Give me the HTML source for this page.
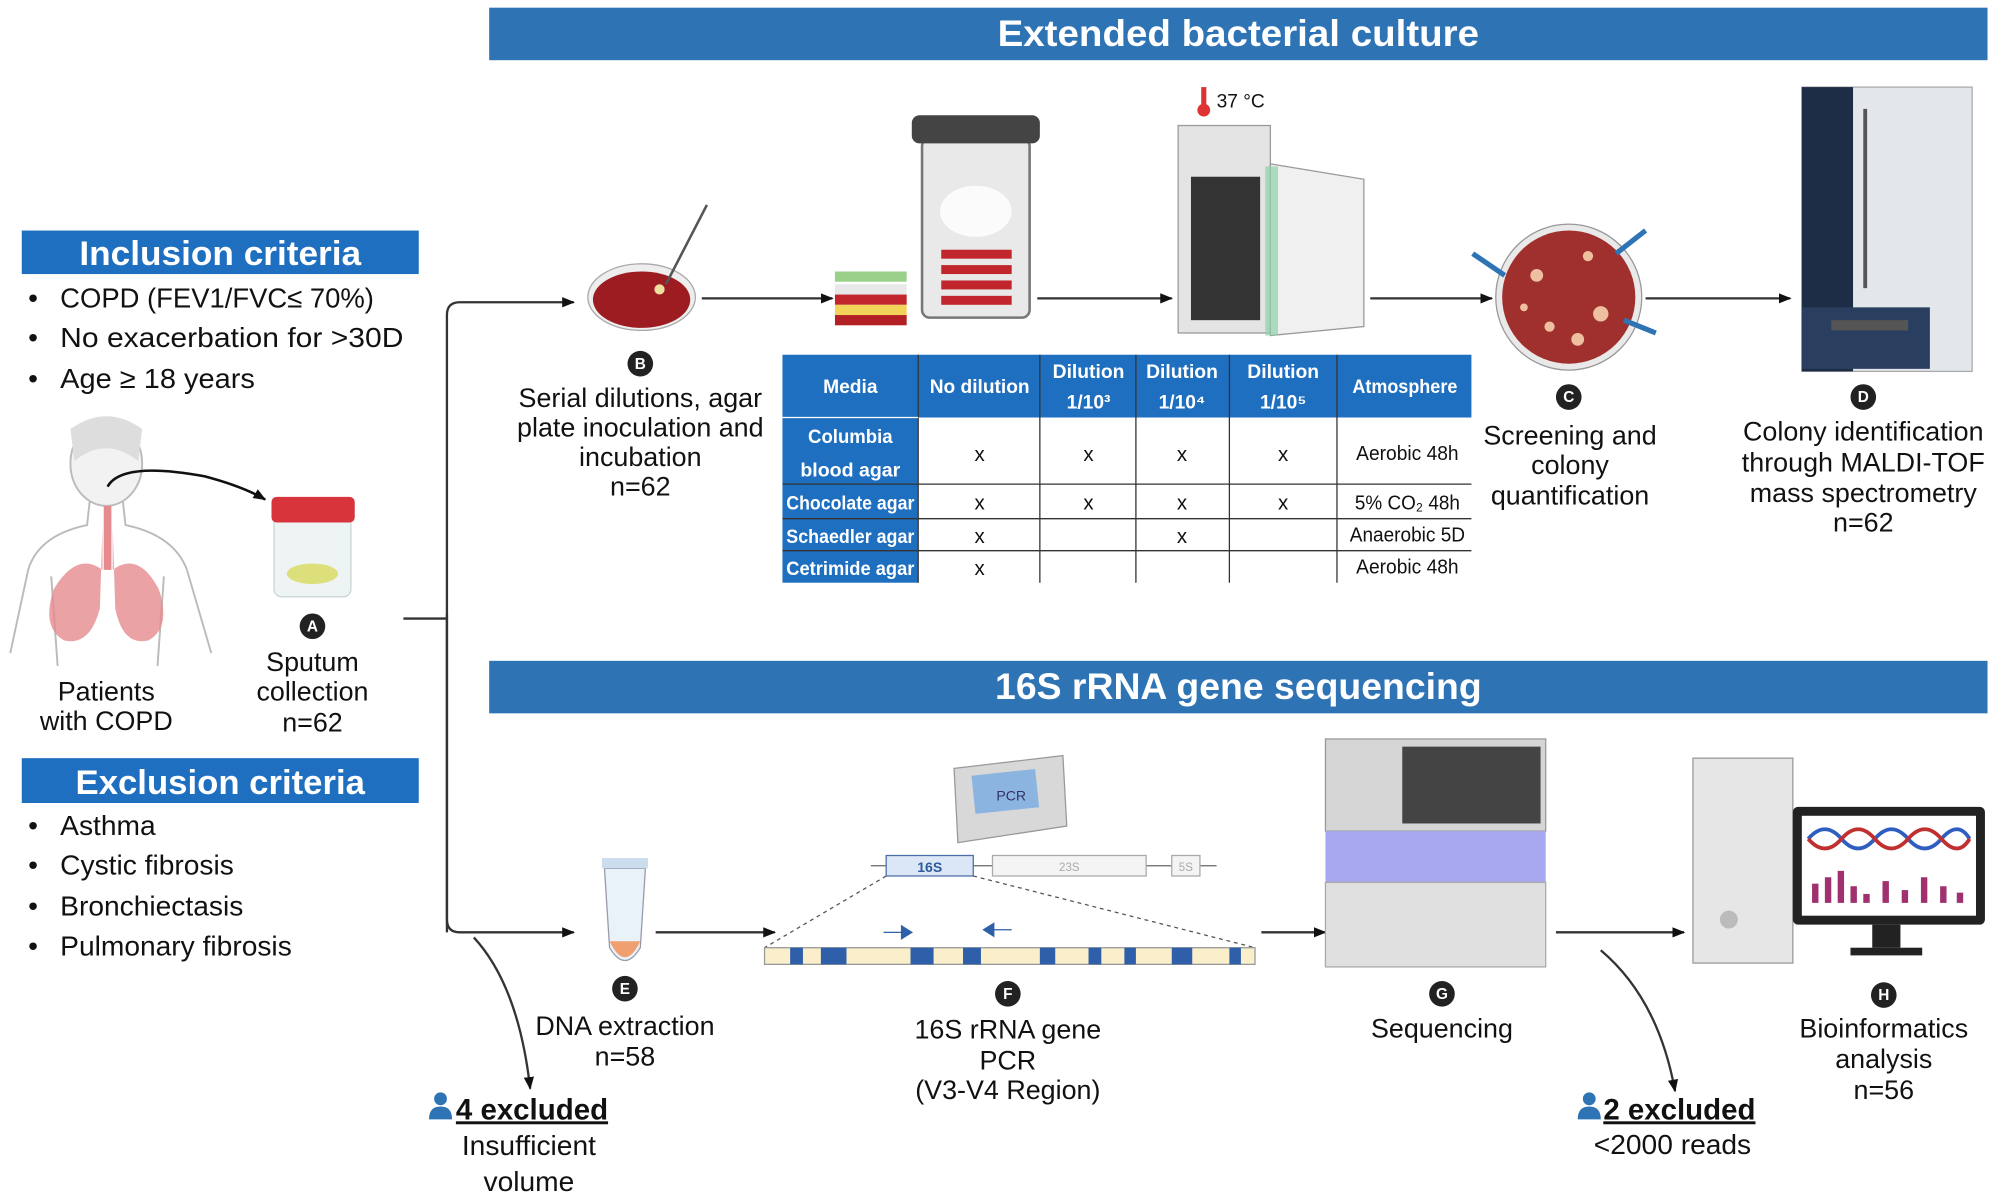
<!DOCTYPE html>
<html><head><meta charset="utf-8"><style>
html,body{margin:0;padding:0;background:#fff;width:2008px;height:1200px;overflow:hidden}
svg{display:block}
text{font-family:"Liberation Sans",sans-serif;fill:#111}
.t{font-size:21px;text-anchor:middle}
.b{font-size:22px}
.hd{font-size:27px;font-weight:bold;fill:#fff;text-anchor:middle}
.th{font-size:15px;font-weight:bold;fill:#fff;text-anchor:middle}
.td{font-size:16px;text-anchor:middle}
.lt{font-size:12px;font-weight:bold;fill:#fff;text-anchor:middle}
</style></head><body>
<svg width="2008" height="1200" viewBox="0 0 1568 937" preserveAspectRatio="none">
<defs><marker id="ar" markerWidth="10" markerHeight="10" refX="9" refY="5" orient="auto" markerUnits="userSpaceOnUse"><path d="M0,1 L10,5 L0,9 z" fill="#111"/></marker></defs>

<rect x="382" y="6" width="1170" height="41" fill="#2e74b5"/>
<text x="967" y="36" class="hd" style="font-size:29px" textLength="376" lengthAdjust="spacingAndGlyphs">Extended bacterial culture</text>
<rect x="382" y="516" width="1170" height="41" fill="#2e74b5"/>
<text x="967" y="546" class="hd" style="font-size:29px" textLength="380" lengthAdjust="spacingAndGlyphs">16S rRNA gene sequencing</text>

<rect x="17" y="180" width="310" height="34" fill="#1f6fc0"/>
<text x="172" y="207" class="hd" textLength="220" lengthAdjust="spacingAndGlyphs">Inclusion criteria</text>
<text x="22" y="240" class="b">•</text><text x="47" y="240" class="b" textLength="245" lengthAdjust="spacingAndGlyphs">COPD (FEV1/FVC≤ 70%)</text>
<text x="22" y="271" class="b">•</text><text x="47" y="271" class="b" textLength="268" lengthAdjust="spacingAndGlyphs">No exacerbation for &gt;30D</text>
<text x="22" y="303" class="b">•</text><text x="47" y="303" class="b" textLength="152" lengthAdjust="spacingAndGlyphs">Age ≥ 18 years</text>

<rect x="17" y="592" width="310" height="35" fill="#1f6fc0"/>
<text x="172" y="620" class="hd" textLength="226" lengthAdjust="spacingAndGlyphs">Exclusion criteria</text>
<text x="22" y="652" class="b">•</text><text x="47" y="652" class="b">Asthma</text>
<text x="22" y="683" class="b">•</text><text x="47" y="683" class="b">Cystic fibrosis</text>
<text x="22" y="715" class="b">•</text><text x="47" y="715" class="b">Bronchiectasis</text>
<text x="22" y="746" class="b">•</text><text x="47" y="746" class="b">Pulmonary fibrosis</text>

<g fill="none" stroke="#bbb" stroke-width="1.5">
<ellipse cx="83" cy="362" rx="28" ry="33" fill="#f2f2f2"/>
<path d="M70,392 L68,410 Q30,418 22,445 L8,510 M96,392 L98,410 Q136,418 146,445 L165,510" />
<path d="M40,450 L45,520 M128,450 L123,520"/>
</g>
<path d="M55,335 Q83,315 111,335 L108,360 Q83,340 58,360 z" fill="#ddd"/>
<path d="M80,412 L80,445 Q60,430 42,460 Q32,490 50,500 Q70,505 78,475 z" fill="#e58b8f" opacity=".8"/>
<path d="M88,412 L88,445 Q108,430 124,460 Q134,490 116,500 Q96,505 90,475 z" fill="#e58b8f" opacity=".8"/>
<path d="M84,395 L84,445" stroke="#e58b8f" stroke-width="6"/>
<path d="M84,380 Q95,360 160,372 Q190,380 207,390" fill="none" stroke="#111" stroke-width="2" marker-end="url(#ar)"/>
<text x="83" y="547" class="t">Patients</text><text x="83" y="570" class="t">with COPD</text>

<rect x="214" y="400" width="60" height="66" rx="6" fill="#eef4f4" stroke="#c9d4d4"/>
<ellipse cx="244" cy="448" rx="20" ry="8" fill="#dde07a"/>
<rect x="212" y="388" width="65" height="20" rx="4" fill="#d8343c"/>
<circle cx="244" cy="489" r="10" fill="#222"/><text x="244" y="493" class="lt">A</text>
<text x="244" y="524" class="t">Sputum</text><text x="244" y="547" class="t">collection</text><text x="244" y="571" class="t">n=62</text>

<g fill="none" stroke="#333" stroke-width="1.8">
<path d="M315,483 L349,483"/>
<path d="M349,728 L349,246 Q349,236 359,236 L448,236" marker-end="url(#ar)"/>
<path d="M349,480 L349,718 Q349,728 359,728 L448,728" marker-end="url(#ar)"/>
<path d="M370,732 Q405,770 414,850" marker-end="url(#ar)"/>
<path d="M1250,742 Q1295,780 1308,852" marker-end="url(#ar)"/>
<path d="M548,233 L650,233" marker-end="url(#ar)"/>
<path d="M810,233 L915,233" marker-end="url(#ar)"/>
<path d="M1070,233 L1165,233" marker-end="url(#ar)"/>
<path d="M1285,233 L1398,233" marker-end="url(#ar)"/>
<path d="M512,728 L605,728" marker-end="url(#ar)"/>
<path d="M985,728 L1035,728" marker-end="url(#ar)"/>
<path d="M1215,728 L1315,728" marker-end="url(#ar)"/>
</g>

<ellipse cx="501" cy="232" rx="42" ry="26" fill="#eee" stroke="#aaa"/>
<ellipse cx="501" cy="234" rx="38" ry="22" fill="#9c1c22"/>
<line x1="520" y1="222" x2="552" y2="160" stroke="#555" stroke-width="2"/>
<circle cx="515" cy="226" r="4" fill="#f0e0a0"/>
<circle cx="500" cy="284" r="10" fill="#222"/><text x="500" y="288" class="lt">B</text>
<text x="500" y="318" class="t">Serial dilutions, agar</text><text x="500" y="341" class="t">plate inoculation and</text>
<text x="500" y="364" class="t">incubation</text><text x="500" y="387" class="t">n=62</text>

<g><rect x="652" y="212" width="56" height="8" fill="#9bd08a"/><rect x="652" y="222" width="56" height="8" fill="#e8e8e8"/>
<rect x="652" y="230" width="56" height="8" fill="#c0262c"/><rect x="652" y="238" width="56" height="8" fill="#f1d35a"/><rect x="652" y="246" width="56" height="8" fill="#b22025"/></g>
<rect x="720" y="108" width="84" height="140" rx="6" fill="#e9e9e9" stroke="#777" stroke-width="2"/>
<rect x="712" y="90" width="100" height="22" rx="6" fill="#444"/>
<g fill="#c0262c"><rect x="735" y="195" width="55" height="7"/><rect x="735" y="207" width="55" height="7"/><rect x="735" y="219" width="55" height="7"/><rect x="735" y="231" width="55" height="7"/></g>
<ellipse cx="762" cy="165" rx="28" ry="20" fill="#fff" opacity=".8"/>

<rect x="920" y="98" width="72" height="162" fill="#e4e4e4" stroke="#999"/>
<rect x="930" y="138" width="54" height="112" fill="#333"/>
<path d="M992,128 L1065,140 L1065,255 L992,262 z" fill="#f0f0f0" stroke="#999"/>
<rect x="988" y="130" width="10" height="132" fill="#8fd0a8" opacity=".7"/>
<circle cx="940" cy="86" r="5" fill="#d33"/><rect x="938" y="68" width="4" height="18" fill="#d33"/>
<text x="950" y="84" style="font-size:15px">37 °C</text>

<circle cx="1225" cy="232" r="57" fill="#e9e9e9" stroke="#999"/>
<circle cx="1225" cy="232" r="52" fill="#a0302e"/>
<g fill="#eec0a0"><circle cx="1200" cy="215" r="5"/><circle cx="1240" cy="200" r="4"/><circle cx="1250" cy="245" r="6"/><circle cx="1210" cy="255" r="4"/><circle cx="1232" cy="265" r="5"/><circle cx="1190" cy="240" r="3"/></g>
<g stroke="#2e74b5" stroke-width="4" fill="none"><path d="M1150,198 L1175,215"/><path d="M1285,180 L1262,198"/><path d="M1293,260 L1268,250"/></g>
<circle cx="1225" cy="310" r="10" fill="#222"/><text x="1225" y="314" class="lt">C</text>
<text x="1226" y="347" class="t">Screening and</text><text x="1226" y="370" class="t">colony</text><text x="1226" y="394" class="t">quantification</text>

<rect x="1407" y="68" width="133" height="222" fill="#e3e6ea" stroke="#aaa"/>
<rect x="1407" y="68" width="40" height="222" fill="#1d2d45"/>
<rect x="1455" y="85" width="3" height="140" fill="#555"/>
<rect x="1407" y="240" width="100" height="48" fill="#2a3f60"/>
<rect x="1430" y="250" width="60" height="8" fill="#555"/>
<circle cx="1455" cy="310" r="10" fill="#222"/><text x="1455" y="314" class="lt">D</text>
<text x="1455" y="344" class="t">Colony identification</text><text x="1455" y="368" class="t">through MALDI-TOF</text>
<text x="1455" y="392" class="t">mass spectrometry</text><text x="1455" y="415" class="t">n=62</text>

<rect x="611" y="277" width="538" height="49" fill="#1f6fc0"/>
<rect x="611" y="326" width="106" height="129" fill="#1f6fc0"/>
<g stroke="#333" stroke-width="1"><line x1="717" y1="277" x2="717" y2="455"/><line x1="812" y1="277" x2="812" y2="455"/><line x1="887" y1="277" x2="887" y2="455"/><line x1="960" y1="277" x2="960" y2="455"/><line x1="1044" y1="277" x2="1044" y2="455"/>
<line x1="611" y1="378" x2="1149" y2="378"/><line x1="611" y1="405" x2="1149" y2="405"/><line x1="611" y1="430" x2="1149" y2="430"/></g>
<g stroke="#fff"><line x1="611" y1="326" x2="717" y2="326"/></g>
<text x="664" y="307" class="th">Media</text><text x="765" y="307" class="th" textLength="78" lengthAdjust="spacingAndGlyphs">No dilution</text>
<text x="850" y="295" class="th" textLength="56" lengthAdjust="spacingAndGlyphs">Dilution</text><text x="850" y="319" class="th">1/10³</text>
<text x="923" y="295" class="th" textLength="56" lengthAdjust="spacingAndGlyphs">Dilution</text><text x="923" y="319" class="th">1/10⁴</text>
<text x="1002" y="295" class="th" textLength="56" lengthAdjust="spacingAndGlyphs">Dilution</text><text x="1002" y="319" class="th">1/10⁵</text>
<text x="1097" y="307" class="th" textLength="82" lengthAdjust="spacingAndGlyphs">Atmosphere</text>
<text x="664" y="346" class="th" textLength="66" lengthAdjust="spacingAndGlyphs">Columbia</text><text x="664" y="372" class="th" textLength="78" lengthAdjust="spacingAndGlyphs">blood agar</text>
<text x="664" y="398" class="th" textLength="100" lengthAdjust="spacingAndGlyphs">Chocolate agar</text><text x="664" y="424" class="th" textLength="100" lengthAdjust="spacingAndGlyphs">Schaedler agar</text><text x="664" y="449" class="th" textLength="100" lengthAdjust="spacingAndGlyphs">Cetrimide agar</text>
<text x="765" y="360" class="td">x</text><text x="850" y="360" class="td">x</text><text x="923" y="360" class="td">x</text><text x="1002" y="360" class="td">x</text><text x="1099" y="359" class="td" textLength="80" lengthAdjust="spacingAndGlyphs">Aerobic 48h</text>
<text x="765" y="398" class="td">x</text><text x="850" y="398" class="td">x</text><text x="923" y="398" class="td">x</text><text x="1002" y="398" class="td">x</text><text x="1099" y="398" class="td" textLength="82" lengthAdjust="spacingAndGlyphs">5% CO₂ 48h</text>
<text x="765" y="424" class="td">x</text><text x="923" y="424" class="td">x</text><text x="1099" y="423" class="td" textLength="90" lengthAdjust="spacingAndGlyphs">Anaerobic 5D</text>
<text x="765" y="449" class="td">x</text><text x="1099" y="448" class="td" textLength="80" lengthAdjust="spacingAndGlyphs">Aerobic 48h</text>

<path d="M472,678 L504,678 L500,740 Q488,760 476,740 z" fill="#e8f2f8" stroke="#99a"/>
<path d="M476,735 L500,735 Q488,760 476,735" fill="#f0a070"/>
<rect x="470" y="670" width="36" height="8" fill="#cde"/>
<circle cx="488" cy="772" r="10" fill="#222"/><text x="488" y="776" class="lt">E</text>
<text x="488" y="808" class="t">DNA extraction</text><text x="488" y="832" class="t">n=58</text>

<path d="M745,600 L830,590 L833,645 L748,658 z" fill="#d8d8d8" stroke="#999"/>
<rect x="760" y="603" width="50" height="30" fill="#8cb4e0" transform="rotate(-6 785 618)"/>
<text x="778" y="625" style="font-size:11px;fill:#336">PCR</text>
<line x1="680" y1="676" x2="950" y2="676" stroke="#666"/>
<rect x="692" y="668" width="68" height="16" fill="#dbe7f6" stroke="#4a6fa8"/><text x="726" y="681" style="font-size:11px;text-anchor:middle;font-weight:bold;fill:#2e5a9b">16S</text>
<rect x="775" y="668" width="120" height="16" fill="#f4f4f4" stroke="#aaa"/><text x="835" y="680" style="font-size:9px;text-anchor:middle;fill:#aaa">23S</text>
<rect x="915" y="668" width="22" height="16" fill="#f4f4f4" stroke="#aaa"/><text x="926" y="680" style="font-size:9px;text-anchor:middle;fill:#aaa">5S</text>
<g stroke="#555" stroke-dasharray="3,3"><line x1="692" y1="684" x2="597" y2="740"/><line x1="760" y1="684" x2="980" y2="740"/></g>
<rect x="597" y="740" width="383" height="13" fill="#fbeecb" stroke="#999"/>
<g fill="#2e5fa8"><rect x="617" y="740" width="10" height="13"/><rect x="641" y="740" width="20" height="13"/><rect x="711" y="740" width="18" height="13"/><rect x="752" y="740" width="14" height="13"/><rect x="812" y="740" width="12" height="13"/><rect x="850" y="740" width="10" height="13"/><rect x="878" y="740" width="9" height="13"/><rect x="915" y="740" width="16" height="13"/><rect x="960" y="740" width="9" height="13"/></g>
<path d="M690,728 L704,728 M704,723 L704,733 L712,728 z" stroke="#2e5fa8" fill="#2e5fa8"/>
<path d="M790,726 L776,726 M776,721 L776,731 L768,726 z" stroke="#2e5fa8" fill="#2e5fa8"/>
<circle cx="787" cy="776" r="10" fill="#222"/><text x="787" y="780" class="lt">F</text>
<text x="787" y="811" class="t">16S rRNA gene</text><text x="787" y="835" class="t">PCR</text><text x="787" y="858" class="t">(V3-V4 Region)</text>

<rect x="1035" y="577" width="172" height="72" fill="#d5d5d5" stroke="#999"/>
<rect x="1095" y="583" width="108" height="60" fill="#444"/>
<rect x="1035" y="649" width="172" height="40" fill="#a8a8f0"/>
<rect x="1035" y="689" width="172" height="66" fill="#e0e0e0" stroke="#aaa"/>
<circle cx="1126" cy="776" r="10" fill="#222"/><text x="1126" y="780" class="lt">G</text>
<text x="1126" y="810" class="t">Sequencing</text>

<rect x="1322" y="592" width="78" height="160" fill="#e6e6e6" stroke="#999"/>
<circle cx="1350" cy="718" r="7" fill="#bbb"/>
<rect x="1400" y="630" width="150" height="92" rx="4" fill="#222"/>
<rect x="1407" y="637" width="136" height="78" fill="#fff"/>
<path d="M1412,655 Q1425,640 1438,655 T1464,655 T1490,655 T1516,655 T1538,655" fill="none" stroke="#2e5fc0" stroke-width="3"/>
<path d="M1412,655 Q1425,670 1438,655 T1464,655 T1490,655 T1516,655 T1538,655" fill="none" stroke="#c03030" stroke-width="3"/>
<g fill="#a03070"><rect x="1415" y="690" width="5" height="15"/><rect x="1425" y="685" width="5" height="20"/><rect x="1435" y="680" width="5" height="25"/><rect x="1445" y="692" width="5" height="13"/><rect x="1455" y="698" width="5" height="7"/><rect x="1470" y="688" width="5" height="17"/><rect x="1485" y="695" width="5" height="10"/><rect x="1500" y="685" width="5" height="20"/><rect x="1515" y="692" width="5" height="13"/><rect x="1528" y="697" width="5" height="8"/></g>
<rect x="1462" y="722" width="22" height="18" fill="#222"/><rect x="1445" y="740" width="56" height="6" fill="#222"/>
<circle cx="1471" cy="777" r="10" fill="#222"/><text x="1471" y="781" class="lt">H</text>
<text x="1471" y="810" class="t">Bioinformatics</text><text x="1471" y="834" class="t">analysis</text><text x="1471" y="858" class="t">n=56</text>

<circle cx="344" cy="858" r="5" fill="#2e74b5"/><path d="M335,874 Q335,864 344,864 Q353,864 353,874 z" fill="#2e74b5"/>
<text x="356" y="874" style="font-size:23px;font-weight:bold;text-decoration:underline">4 excluded</text>
<text x="413" y="902" class="t" style="font-size:22px">Insufficient</text><text x="413" y="930" class="t" style="font-size:22px">volume</text>
<circle cx="1241" cy="858" r="5" fill="#2e74b5"/><path d="M1232,874 Q1232,864 1241,864 Q1250,864 1250,874 z" fill="#2e74b5"/>
<text x="1252" y="874" style="font-size:23px;font-weight:bold;text-decoration:underline">2 excluded</text>
<text x="1306" y="901" class="t" style="font-size:22px">&lt;2000 reads</text>
</svg>
</body></html>
